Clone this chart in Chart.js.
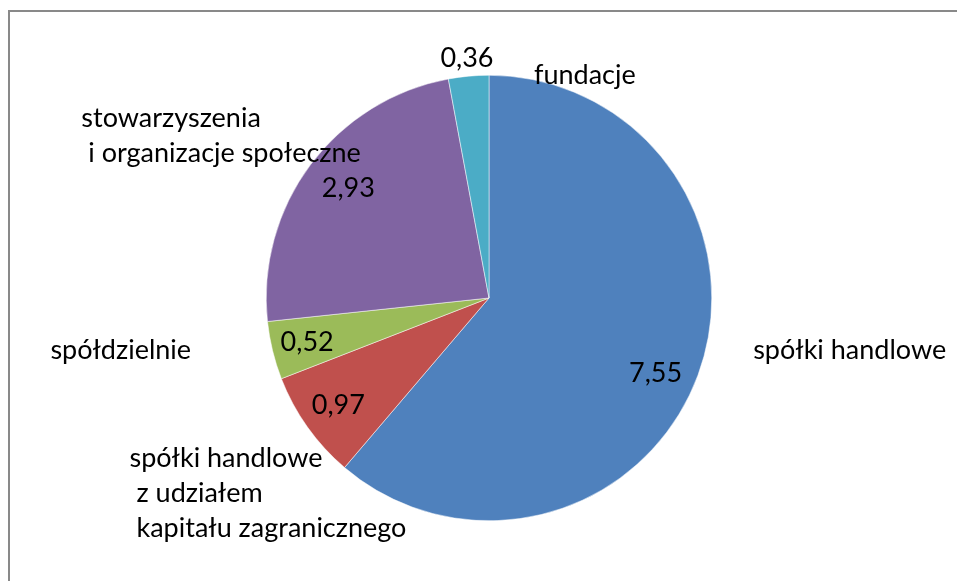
<!DOCTYPE html>
<html>
<head>
<meta charset="utf-8">
<script src="https://cdn.jsdelivr.net/npm/chart.js@4"></script>
<style>
  html, body { margin: 0; padding: 0; background: #fff; }
  #wrap { width: 957px; height: 581px; position: relative; }
</style>
</head>
<body>
<div id="wrap"><canvas id="myChart" width="957" height="581"></canvas></div>
<script>
// dane
const categories = ['spółki handlowe', 'spółki handlowe z udziałem kapitału zagranicznego', 'spółdzielnie', 'stowarzyszenia i organizacje społeczne', 'fundacje'];
const values = [7.55, 0.97, 0.52, 2.93, 0.36];
const valueLabels = ['7,55', '0,97', '0,52', '2,93', '0,36'];
const colors = ['#4F81BD', '#C0504D', '#9BBB59', '#8064A2', '#4BACC6'];

// etykiety kategorii: linie z wcięciem, pozycja względem środka koła (w promieniach)
const catLines = [
    [['spółki handlowe', 0]],
    [['spółki handlowe', 0], ['z udziałem', 7], ['kapitału zagranicznego', 7]],
    [['spółdzielnie', 0]],
    [['stowarzyszenia', 0], [' i organizacje społeczne', 0]],
    [['fundacje', 0]]
];
const catPos = [[1.186, 0.233], [-1.614, 0.72], [-1.969, 0.233], [-1.83, -0.808], [0.202, -1.0]];
const valueRadius = [0.82, 0.83, 0.84, 0.8, 1.08];
const valueNudge = [0.07, 0, 0, 0.02, 0]; // przesunięcie kąta (rad)

const FONT = '27px Lato, "Open Sans", sans-serif';

const labelsPlugin = {
    id: 'pieLabels',
    beforeDraw(chart) {
        const c = chart.ctx;
        c.save();
        c.fillStyle = '#fff';
        c.fillRect(0, 0, chart.width, chart.height);
        c.strokeStyle = '#898989';
        c.lineWidth = 2;
        c.beginPath();
        c.moveTo(9, chart.height);
        c.lineTo(9, 11);
        c.lineTo(chart.width, 11);
        c.stroke();
        c.restore();
    },
    afterDatasetsDraw(chart) {
        const c = chart.ctx;
        const meta = chart.getDatasetMeta(0);
        c.save();
        c.font = FONT;
        c.fillStyle = '#000';
        c.textBaseline = 'middle';
        meta.data.forEach((arc, i) => {
            const cx = arc.x, cy = arc.y, r = arc.outerRadius;
            const mid = (arc.startAngle + arc.endAngle) / 2 + valueNudge[i];
            // wartość
            c.textAlign = 'center';
            const vr = r * valueRadius[i];
            c.fillText(valueLabels[i], cx + Math.cos(mid) * vr, cy + Math.sin(mid) * vr);
            // kategoria
            c.textAlign = 'left';
            const x0 = cx + catPos[i][0] * r;
            const y0 = cy + catPos[i][1] * r;
            catLines[i].forEach((ln, k) => {
                c.fillText(ln[0], x0 + ln[1], y0 + k * 35);
            });
        });
        c.restore();
    }
};

const ctx = document.getElementById('myChart').getContext('2d');
const myChart = new Chart(ctx, {
    type: 'pie',
    data: {
        labels: categories,
        datasets: [{
            data: values,
            backgroundColor: colors,
            borderColor: '#fff',
            borderWidth: 0.5
        }]
    },
    options: {
        responsive: false,
        animation: false,
        layout: { padding: { top: 75, bottom: 60, left: 266, right: 245 } },
        plugins: {
            legend: { display: false },
            tooltip: { enabled: false }
        }
    },
    plugins: [labelsPlugin]
});
</script>
</body>
</html>
